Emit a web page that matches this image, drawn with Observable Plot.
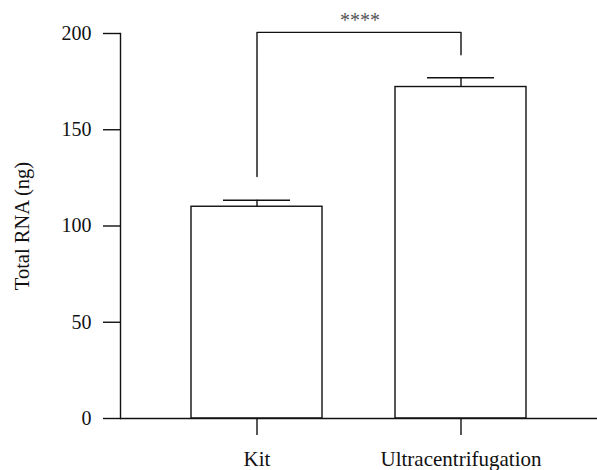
<!DOCTYPE html>
<html>
<head>
<meta charset="utf-8">
<script src="https://cdn.jsdelivr.net/npm/d3@7"></script>
<script src="https://cdn.jsdelivr.net/npm/@observablehq/plot@0.6"></script>
<style>
  html, body { margin: 0; padding: 0; background: #fff; }
  svg { display: block; }
</style>
</head>
<body>
<div id="chart"></div>
<script>
const categories = ["Kit", "Ultracentrifugation"];
const means = [110, 172.2];
const errors = [3.4, 4.8];
const yTicks = [0, 50, 100, 150, 200];
const bracketLegs = [125.7, 189]; // bottom ends of the significance bracket legs
const bracketTop = 200.6;
const significance = "****";

const bars = categories.map((c, i) => ({cat: c, mean: means[i], top: means[i] + errors[i]}));
const bracket = [
  {cat: categories[0], y: bracketLegs[0]},
  {cat: categories[0], y: bracketTop},
  {cat: categories[1], y: bracketTop},
  {cat: categories[1], y: bracketLegs[1]}
];

const font = "'Liberation Serif', 'DejaVu Serif', serif";

const chart = Plot.plot({
  width: 597,
  height: 470,
  marginLeft: 120,
  marginRight: 0,
  marginTop: 33,
  marginBottom: 52,
  style: {fontFamily: font, fontSize: "20px", color: "#111", background: "#fff"},
  x: {domain: categories, paddingInner: 0.356, paddingOuter: 0.3415, align: 0.5},
  y: {domain: [0, 200]},
  marks: [
    Plot.barY(bars, {x: "cat", y: "mean", fill: "white", stroke: "#111", strokeWidth: 1.4}),
    Plot.ruleX(bars, {x: "cat", y1: "mean", y2: "top", stroke: "#111", strokeWidth: 1.4}),
    Plot.tickY(bars, {x: "cat", y: "top", stroke: "#111", strokeWidth: 1.4, insetLeft: 32, insetRight: 32}),
    Plot.line(bracket, {x: "cat", y: "y", stroke: "#111", strokeWidth: 1.4}),
    Plot.text([significance], {x: () => categories[0], y: [bracketTop], text: d => d, dx: 103, dy: -12, fill: "#555", fontSize: 20}),
    Plot.ruleY([0], {stroke: "#111", strokeWidth: 1.4}),
    Plot.frame({anchor: "left", stroke: "#111", strokeWidth: 1.4}),
    Plot.axisY({ticks: yTicks, tickSize: 17, tickPadding: 12, tickFormat: d => d, label: null, stroke: "#111", strokeWidth: 1.4, fontSize: 20}),
    Plot.axisX({tickSize: 17, tickPadding: 16, label: null, stroke: "#111", strokeWidth: 1.4, fontSize: 21}),
    Plot.text(["Total RNA (ng)"], {frameAnchor: "left", textAnchor: "middle", rotate: -90, dx: -98, text: d => d, fontSize: 20.5, fill: "#111"})
  ]
});
document.getElementById("chart").appendChild(chart);
</script>
</body>
</html>
